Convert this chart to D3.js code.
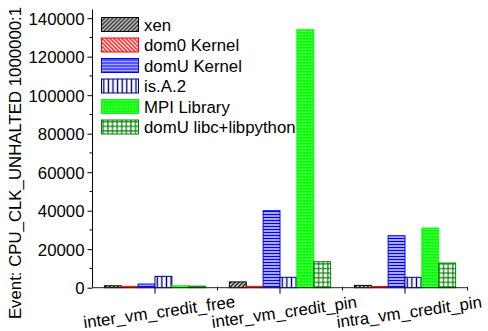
<!DOCTYPE html>
<html>
<head>
<meta charset="utf-8">
<script src="https://cdn.jsdelivr.net/npm/d3@7"></script>
<style>
  html, body { margin: 0; padding: 0; background: #fff; }
  svg { display: block; font-family: "Liberation Sans", Arial, sans-serif; }
</style>
</head>
<body>
<svg id="chart" width="488" height="331"></svg>
<script>
// Workloads along the x axis
const categories = ["inter_vm_credit_free", "inter_vm_credit_pin", "intra_vm_credit_pin"];

// Sample counts per code region (one array per series, in category order)
const seriesNames = ["xen", "dom0 Kernel", "domU Kernel", "is.A.2", "MPI Library", "domU libc+libpython"];
const xen        = [1000, 3000, 1200];
const dom0Kernel = [700, 700, 600];
const domUKernel = [1900, 40000, 27000];
const isA2       = [5900, 5400, 5400];
const mpiLibrary = [1000, 134000, 31000];
const domULibc   = [800, 13500, 12800];

// Y axis ticks
const yTicks = [0, 20000, 40000, 60000, 80000, 100000, 120000, 140000];
const yMinorTicks = [10000, 30000, 50000, 70000, 90000, 110000, 130000];

const seriesValues = [xen, dom0Kernel, domUKernel, isA2, mpiLibrary, domULibc];
const seriesColors = ["#000000", "#ff0000", "#0000ff", "#000080", "#00ff00", "#008000"];

const svg = d3.select("#chart");
const plotLeft = 92.5, plotRight = 467.5, plotTop = 9.5, plotBottom = 287.7;

const x = d3.scaleBand().domain(categories).range([plotLeft, plotRight])
  .paddingInner(0.19).paddingOuter(0.095);
const xs = d3.scaleBand().domain(d3.range(seriesNames.length)).range([0, x.bandwidth()]);
const y = d3.scaleLinear().domain([0, 144500]).range([plotBottom, plotTop]);

// Fill patterns
const defs = svg.append("defs");
function pat(id, w, h, draw) {
  const p = defs.append("pattern").attr("id", id)
    .attr("patternUnits", "userSpaceOnUse").attr("width", w).attr("height", h);
  draw(p);
}
pat("p0", 4, 4, p => {
  p.append("rect").attr("width", 4).attr("height", 4).attr("fill", "#fff");
  p.append("path").attr("d", "M-1,1 L1,-1 M0,4 L4,0 M3,5 L5,3")
    .attr("stroke", "#000").attr("stroke-width", 1.5);
});
pat("p1", 4, 4, p => {
  p.append("rect").attr("width", 4).attr("height", 4).attr("fill", "#fff");
  p.append("path").attr("d", "M-1,3 L1,5 M0,0 L4,4 M3,-1 L5,1")
    .attr("stroke", "#ff0000").attr("stroke-width", 1.3);
});
pat("p2", 3, 3, p => {
  p.append("rect").attr("width", 3).attr("height", 3).attr("fill", "#d0d0ff");
  p.append("rect").attr("y", 0.8).attr("width", 3).attr("height", 1.4).attr("fill", "#0000ff");
});
pat("p3", 4.6, 4, p => {
  p.append("rect").attr("width", 4.6).attr("height", 4).attr("fill", "#fff");
  p.append("rect").attr("x", 1.6).attr("width", 1.4).attr("height", 4).attr("fill", "#000080");
});
pat("p4", 3, 3, p => {
  p.append("rect").attr("width", 3).attr("height", 3).attr("fill", "#00ff00");
  p.append("rect").attr("x", 0.6).attr("y", 0.6).attr("width", 1.2).attr("height", 1.2).attr("fill", "#c8ffc8");
});
pat("p5", 4.6, 4.6, p => {
  p.append("rect").attr("width", 4.6).attr("height", 4.6).attr("fill", "#fff");
  p.append("path").attr("d", "M1.8,0 V4.6 M0,1.8 H4.6")
    .attr("stroke", "#008000").attr("stroke-width", 1.2);
});

// Bars
const groups = svg.append("g").selectAll("g").data(categories).join("g")
  .attr("transform", d => `translate(${x(d)},0)`);
groups.selectAll("rect")
  .data((c, ci) => seriesValues.map((vals, si) => ({ si, v: vals[ci] })))
  .join("rect")
  .attr("x", d => xs(d.si))
  .attr("width", xs.bandwidth())
  .attr("y", d => y(d.v))
  .attr("height", d => y(0) - y(d.v))
  .attr("fill", d => `url(#p${d.si})`)
  .attr("stroke", d => seriesColors[d.si])
  .attr("stroke-width", 1);

// Y axis
const yAxis = svg.append("g").attr("transform", `translate(${plotLeft},0)`)
  .call(d3.axisLeft(y).tickValues(yTicks).tickFormat(d3.format("d")).tickSize(5).tickPadding(3));
yAxis.attr("font-family", null);
yAxis.select(".domain").attr("d", `M0,${plotTop}V${plotBottom}`);
yAxis.selectAll("text").attr("font-size", "16.8px").attr("fill", "#000").attr("dy", "0.36em");
yAxis.selectAll(".minor").data(yMinorTicks).join("line").attr("class", "minor")
  .attr("x1", -3).attr("x2", 0).attr("y1", d => y(d)).attr("y2", d => y(d))
  .attr("stroke", "#000");

// X axis
const xAxis = svg.append("g").attr("transform", `translate(0,${plotBottom})`)
  .call(d3.axisBottom(x).tickSize(6).tickFormat(""));
xAxis.attr("font-family", null);
xAxis.select(".domain").attr("d", `M${plotLeft},0H${plotRight}`).attr("stroke", "#222");
const step = x.step();
xAxis.selectAll(".minor").data(categories).join("line").attr("class", "minor")
  .attr("x1", d => x(d) + x.bandwidth() / 2 + step / 2)
  .attr("x2", d => x(d) + x.bandwidth() / 2 + step / 2)
  .attr("y1", -1).attr("y2", 3).attr("stroke", "#222");
xAxis.selectAll(".lbl").data(categories).join("text").attr("class", "lbl")
  .attr("text-anchor", "middle").attr("font-size", "16.8px").attr("fill", "#000")
  .attr("transform", d => `translate(${x(d) + x.bandwidth() / 2 + 5},${30}) rotate(-8)`)
  .text(d => d);

// Y axis title
svg.append("text").attr("text-anchor", "middle").attr("font-size", "16.8px").attr("fill", "#000")
  .attr("transform", `translate(21,${163}) rotate(-90)`)
  .text("Event: CPU_CLK_UNHALTED 1000000:1");

// Legend
const legend = svg.append("g").attr("transform", "translate(101.5,17.5)");
const rows = legend.selectAll("g").data(seriesNames).join("g")
  .attr("transform", (d, i) => `translate(0,${i * 20.5})`);
rows.append("rect").attr("width", 37).attr("height", 14)
  .attr("fill", (d, i) => `url(#p${i})`).attr("stroke", (d, i) => seriesColors[i]);
rows.append("text").attr("x", 42.5).attr("y", 13).attr("font-size", "16.8px").attr("fill", "#000")
  .text(d => d);
</script>
</body>
</html>
